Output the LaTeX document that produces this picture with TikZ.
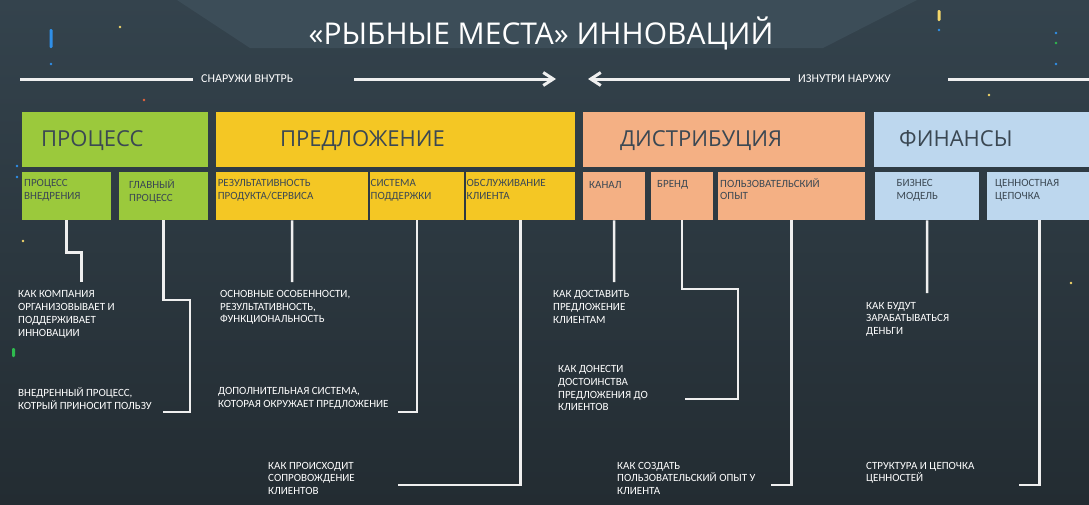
\documentclass[tikz,border=0pt]{standalone}
\usepackage{fontspec}
\setmainfont{Carlito}
\newfontfamily\headfont{Open Sans}
\usetikzlibrary{arrows.meta}
\definecolor{bgtop}{HTML}{34434D}
\definecolor{bgbot}{HTML}{232C32}
\definecolor{bgpoly}{HTML}{3C4D58}
\definecolor{procgreen}{HTML}{9BC93C}
\definecolor{offeryellow}{HTML}{F4C724}
\definecolor{distsalmon}{HTML}{F4B084}
\definecolor{finblue}{HTML}{BDD7EE}
\definecolor{slate}{HTML}{3B4853}
\definecolor{linkgray}{HTML}{EFEFEF}
\definecolor{dotblue}{HTML}{2F8FE8}
\definecolor{dotyellow}{HTML}{F3D66A}
\definecolor{dotorange}{HTML}{E8643C}
\definecolor{dotgreen}{HTML}{2EBB4E}
\begin{document}
\begin{tikzpicture}[x=1pt,y=-1pt,
	tile/.style={anchor=north west, inner sep=0pt, minimum height=55pt},
	subtile/.style={anchor=north west, inner sep=0pt, minimum height=48pt},
	headtext/.style={anchor=base west, inner sep=0pt, text=slate, font=\headfont\fontsize{22}{26}\selectfont},
	subtext/.style={anchor=north west, inner sep=0pt, align=left, text=slate, font=\fontsize{11}{12.7}\selectfont, execute at begin node=\strut},
	note/.style={subtext, text=white},
	flowtext/.style={anchor=base west, inner sep=0pt, text=white, font=\fontsize{12}{14}\selectfont},
	link/.style={draw=linkgray, line width=2.5pt},
	flow/.style={draw=linkgray, line width=3pt},
	barb/.style={-{Straight Barb[length=10pt,width=13pt]}}]
	\useasboundingbox (0,0) rectangle (1089,504);
	\shade[top color=bgtop, bottom color=bgbot] (0,0) rectangle (1089,504);
	\fill[bgpoly] (177,0) -- (250,48) -- (823,48) -- (917,0) -- cycle;

	\fill[dotblue, rounded corners=1.2pt] (49.5,29) rectangle (52.5,48);
	\fill[dotyellow, rounded corners=1.2pt] (937.5,10) rectangle (940.5,21);
	\fill[dotgreen, rounded corners=1.2pt] (12,348) rectangle (15,357);
	\fill[dotblue] (51,64) circle (1.3);
	\fill[dotyellow] (120,27) circle (1.3);
	\fill[dotorange] (144,100) circle (1.3);
	\fill[dotblue] (17,166) circle (1.3);
	\fill[dotblue] (17,177) circle (1.3);
	\fill[dotyellow] (23,241) circle (1.3);
	\fill[dotblue] (939,30) circle (1.3);
	\fill[dotblue] (1056,33) circle (1.3);
	\fill[dotgreen] (1056,43) circle (1.3);
	\fill[dotblue] (1056,64) circle (1.3);
	\fill[dotyellow] (989,95) circle (1.3);
	\fill[dotyellow] (1071,283) circle (1.3);

	\node (title) at (541,44) [anchor=base, inner sep=0pt, text=white, font=\headfont\fontsize{30}{36}\selectfont] {«РЫБНЫЕ МЕСТА» ИННОВАЦИЙ};

	\coordinate (a1) at (20,79);
	\coordinate (a2) at (193,79);
	\coordinate (a3) at (354,79);
	\coordinate (a4) at (556,79);
	\coordinate (b1) at (588,79);
	\coordinate (b2) at (790,79);
	\coordinate (b3) at (948,79);
	\coordinate (b4) at (1092,79);
	\node (outin) at (201,82) [flowtext] {СНАРУЖИ ВНУТРЬ};
	\node (inout) at (798,82) [flowtext] {ИЗНУТРИ НАРУЖУ};
	\draw[flow] (a1) -- (a2);
	\draw[flow, barb] (a3) -- (a4);
	\draw[flow, barb] (b2) -- (b1);
	\draw[flow] (b3) -- (b4);

	\node (proc) at (22,112) [tile, minimum width=186pt, fill=procgreen] {};
	\node (offer) at (216,112) [tile, minimum width=359pt, fill=offeryellow] {};
	\node (dist) at (583,112) [tile, minimum width=282pt, fill=distsalmon] {};
	\node (fin) at (874,112) [tile, minimum width=218pt, fill=finblue] {};
	\node (proc-t) at (41,146.7) [headtext] {ПРОЦЕСС};
	\node (offer-t) at (280,146.7) [headtext] {ПРЕДЛОЖЕНИЕ};
	\node (dist-t) at (620,146.7) [headtext] {ДИСТРИБУЦИЯ};
	\node (fin-t) at (899,146.7) [headtext] {ФИНАНСЫ};

	\node (vnedr) at (22,172) [subtile, minimum width=89pt, fill=procgreen] {};
	\node (glav) at (119,172) [subtile, minimum width=89pt, fill=procgreen] {};
	\node (rezul) at (216,172) [subtile, minimum width=152pt, fill=offeryellow] {};
	\node (sist) at (370,172) [subtile, minimum width=94pt, fill=offeryellow] {};
	\node (obsl) at (466,172) [subtile, minimum width=109pt, fill=offeryellow] {};
	\node (kanal) at (583,172) [subtile, minimum width=62pt, fill=distsalmon] {};
	\node (brend) at (651,172) [subtile, minimum width=62pt, fill=distsalmon] {};
	\node (polz) at (718,172) [subtile, minimum width=147pt, fill=distsalmon] {};
	\node (biz) at (875,172) [subtile, minimum width=104pt, fill=finblue] {};
	\node (cen) at (987,172) [subtile, minimum width=105pt, fill=finblue] {};

	\node (vnedr-t) at (24,179.4) [subtext] {ПРОЦЕСС\\ВНЕДРЕНИЯ};
	\node (glav-t) at (129,179.4) [subtext] {ГЛАВНЫЙ\\ПРОЦЕСС};
	\node (rezul-t) at (217.6,179.4) [subtext] {РЕЗУЛЬТАТИВНОСТЬ\\ПРОДУКТА/СЕРВИСА};
	\node (sist-t) at (370.5,179.4) [subtext] {СИСТЕМА\\ПОДДЕРЖКИ};
	\node (obsl-t) at (466.5,179.4) [subtext] {ОБСЛУЖИВАНИЕ\\КЛИЕНТА};
	\node (kanal-t) at (589,179.4) [subtext] {КАНАЛ};
	\node (brend-t) at (657,178) [subtext] {БРЕНД};
	\node (polz-t) at (720,178) [subtext] {ПОЛЬЗОВАТЕЛЬСКИЙ\\ОПЫТ};
	\node (biz-t) at (896.5,179.4) [subtext] {БИЗНЕС\\МОДЕЛЬ};
	\node (cen-t) at (995,179.4) [subtext] {ЦЕННОСТНАЯ\\ЦЕПОЧКА};

	\node (n1) at (18,290.6) [note] {КАК КОМПАНИЯ\\ОРГАНИЗОВЫВАЕТ И\\ПОДДЕРЖИВАЕТ\\ИННОВАЦИИ};
	\node (n2) at (18,387.6) [note] {ВНЕДРЕННЫЙ ПРОЦЕСС,\\КОТРЫЙ ПРИНОСИТ ПОЛЬЗУ};
	\node (n3) at (220,290.2) [note] {ОСНОВНЫЕ ОСОБЕННОСТИ,\\РЕЗУЛЬТАТИВНОСТЬ,\\ФУНКЦИОНАЛЬНОСТЬ};
	\node (n4) at (218,387.6) [note] {ДОПОЛНИТЕЛЬНАЯ СИСТЕМА,\\КОТОРАЯ ОКРУЖАЕТ ПРЕДЛОЖЕНИЕ};
	\node (n5) at (268,461.8) [note] {КАК ПРОИСХОДИТ\\СОПРОВОЖДЕНИЕ\\КЛИЕНТОВ};
	\node (n6) at (553,290.4) [note] {КАК ДОСТАВИТЬ\\ПРЕДЛОЖЕНИЕ\\КЛИЕНТАМ};
	\node (n7) at (558,365.4) [note] {КАК ДОНЕСТИ\\ДОСТОИНСТВА\\ПРЕДЛОЖЕНИЯ ДО\\КЛИЕНТОВ};
	\node (n8) at (617,461.8) [note] {КАК СОЗДАТЬ\\ПОЛЬЗОВАТЕЛЬСКИЙ ОПЫТ У\\КЛИЕНТА};
	\node (n9) at (866,301.8) [note] {КАК БУДУТ\\ЗАРАБАТЫВАТЬСЯ\\ДЕНЬГИ};
	\node (n10) at (866,461.8) [note] {СТРУКТУРА И ЦЕПОЧКА\\ЦЕННОСТЕЙ};

	\coordinate (e1) at (81.7,282);
	\coordinate (e2) at (163,412);
	\coordinate (e3) at (292,282);
	\coordinate (e4) at (398,412);
	\coordinate (e5) at (398,485);
	\coordinate (e6) at (614,282);
	\coordinate (e7) at (685,399);
	\coordinate (e8) at (771,485);
	\coordinate (e9) at (927,293);
	\coordinate (e10) at (1019,485);
	\draw[link] (vnedr.south) -- ++(0,32) -| (e1);
	\draw[link] (glav.south) |- (190,300) |- (e2);
	\draw[link] (rezul.south) -- (e3);
	\draw[link] (sist.south) |- (e4);
	\draw[link] (obsl.south) |- (e5);
	\draw[link] (kanal.south) -- (e6);
	\draw[link] (brend.south) |- (738,289) |- (e7);
	\draw[link] (polz.south) |- (e8);
	\draw[link] (biz.south) -- (e9);
	\draw[link] (cen.south) |- (e10);
\end{tikzpicture}
\end{document}
